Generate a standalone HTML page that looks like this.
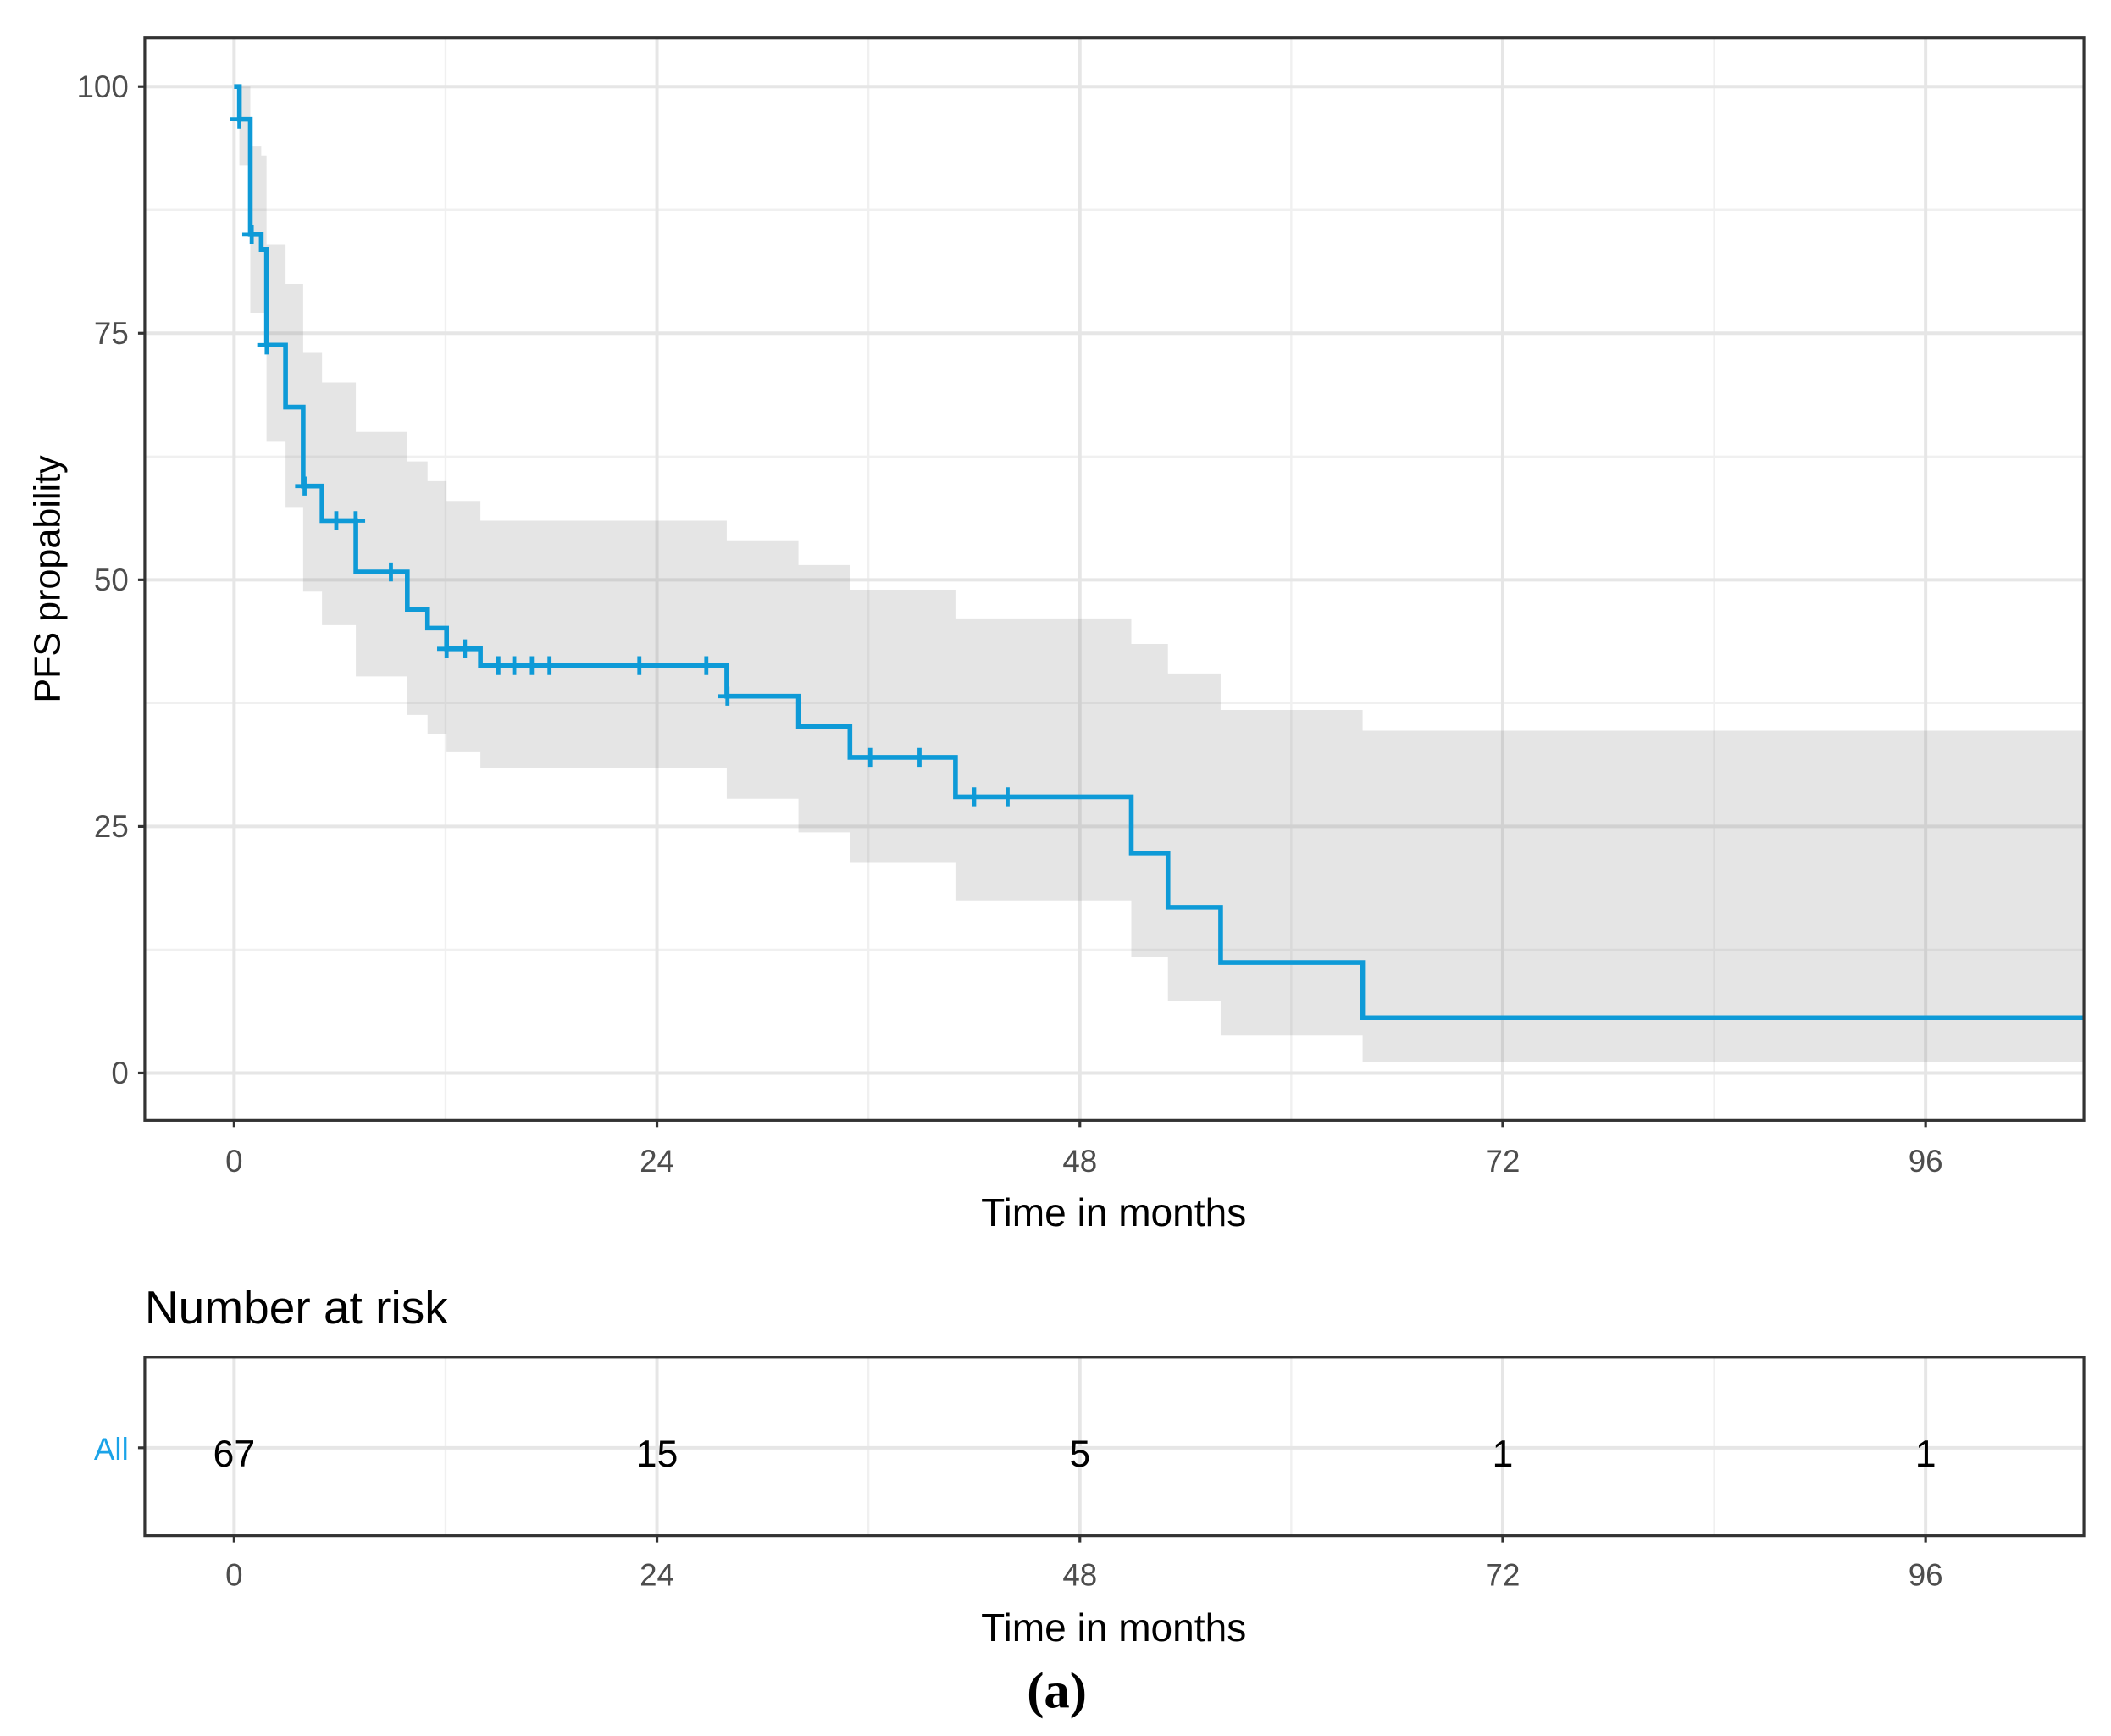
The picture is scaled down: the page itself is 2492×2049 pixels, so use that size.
<!DOCTYPE html>
<html><head><meta charset="utf-8"><style>
html,body{margin:0;padding:0;background:#fff}
svg{display:block}
text{font-family:"Liberation Sans",sans-serif}
</style></head><body>
<svg id="chart" width="2492" height="2049" viewBox="0 0 1560 1283" preserveAspectRatio="none" xmlns="http://www.w3.org/2000/svg">
<g id="main"></g>
<g id="risk"></g>
</svg>
<script>
const times=[0,0.3,0.92,1.54,1.84,2.92,3.92,4.99,6.91,9.83,10.98,12.06,13.98,27.96,32.03,34.95,40.94,50.92,53.0,55.99,64.05];
const surv=[100,96.7,85,83.5,73.8,67.5,59.5,56,50.8,47,45.1,43,41.3,38.2,35.1,32,28,22.3,16.8,11.2,5.6];
const upper=[100,100,94,93,84,80,73,70,65,62,60,58,56,54,51.5,49,46,43.5,40.5,36.8,34.7];
const lower=[100,92,77,77,64,57.3,48.8,45.4,40.2,36.3,34.4,32.6,30.9,27.8,24.4,21.3,17.5,11.8,7.3,3.8,1.1];
const censorTimes=[0.3,1.0,1.85,4.0,5.8,6.9,8.9,12.06,13.1,15.0,15.9,16.9,17.9,23.0,26.8,28.0,36.1,38.9,42.0,43.9];
const xTicks=[0,24,48,72,96];
const xMinor=[12,36,60,84];
const yTicks=[0,25,50,75,100];
const yMinor=[12.5,37.5,62.5,87.5];
const riskTimes=[0,24,48,72,96];
const riskCounts=[67,15,5,1,1];
const tMax=105;

const NS='http://www.w3.org/2000/svg';
const PL=107,PR=1540,PT=28,PB=828;
const X=t=>173+t*(1423-173)/96;
const Y=v=>793-v*(793-64)/100;
function mk(parent,tag,attrs,txt){const e=document.createElementNS(NS,tag);for(const k in attrs)e.setAttribute(k,attrs[k]);if(txt!==undefined)e.textContent=txt;parent.appendChild(e);return e;}
const main=document.getElementById('main');
const risk=document.getElementById('risk');

yMinor.forEach(v=>{const l=mk(main,'line',{x1:PL,x2:PR,y1:Y(v),y2:Y(v),stroke:'#f0f0f0','stroke-width':1.5});

});
xMinor.forEach(t=>{const l=mk(main,'line',{x1:X(t),x2:X(t),y1:PT,y2:PB,stroke:'#f0f0f0','stroke-width':1.5});

});
yTicks.forEach(v=>{const l=mk(main,'line',{x1:PL,x2:PR,y1:Y(v),y2:Y(v),stroke:'#e6e6e6','stroke-width':2.5});

});
xTicks.forEach(t=>{const l=mk(main,'line',{x1:X(t),x2:X(t),y1:PT,y2:PB,stroke:'#e6e6e6','stroke-width':2.5});

});

let up='',lo='';
for(let i=0;i<times.length;i++){const t0=times[i],t1=i+1<times.length?times[i+1]:tMax;
up+=(i?'L':'M')+X(t0)+','+Y(upper[i])+'L'+X(t1)+','+Y(upper[i]);}
for(let i=times.length-1;i>=0;i--){const t0=times[i],t1=i+1<times.length?times[i+1]:tMax;
lo+='L'+X(t1)+','+Y(lower[i])+'L'+X(t0)+','+Y(lower[i]);}
const band=mk(main,'path',{d:up+lo+'Z',fill:'#7f7f7f','fill-opacity':0.2});



let d='';
for(let i=0;i<times.length;i++){const t1=i+1<times.length?times[i+1]:tMax;
d+=(i?'L':'M')+X(times[i])+','+Y(surv[i])+'L'+X(t1)+','+Y(surv[i]);}
const curve=mk(main,'path',{d:d,fill:'none',stroke:'#0e9ad7','stroke-width':3.5});


function survAt(t){let v=surv[0];for(let i=0;i<times.length;i++)if(times[i]<=t)v=surv[i];return v;}
censorTimes.forEach(t=>{const x=X(t),y=Y(survAt(t));
const g=mk(main,'path',{d:`M${x-7},${y}L${x+7},${y}M${x},${y-7}L${x},${y+7}`,stroke:'#0e9ad7','stroke-width':3});

});

const fr=mk(main,'rect',{x:PL,y:PT,width:PR-PL,height:PB-PT,fill:'none',stroke:'#333','stroke-width':2});


yTicks.forEach(v=>{mk(main,'line',{x1:PL-5,x2:PL,y1:Y(v),y2:Y(v),stroke:'#333','stroke-width':2});
const tx=mk(main,'text',{x:95,y:Y(v)+8,'text-anchor':'end','font-size':23,fill:'#4d4d4d'},v);

});
xTicks.forEach(t=>{mk(main,'line',{x1:X(t),x2:X(t),y1:PB,y2:PB+5,stroke:'#333','stroke-width':2});
const tx=mk(main,'text',{x:X(t),y:866,'text-anchor':'middle','font-size':23,fill:'#4d4d4d'},t);

});
const xt=mk(main,'text',{x:823,y:906,'text-anchor':'middle','font-size':29,fill:'#000',textLength:196,lengthAdjust:'spacingAndGlyphs'},'Time in months');


const yt=mk(main,'text',{x:0,y:0,'text-anchor':'middle','font-size':27,fill:'#000',transform:'translate(44,428) rotate(-90)'},'PFS propability');



const RT=1003,RB=1135,RY=1070;
const rtitle=mk(risk,'text',{x:107,y:978,'font-size':34,fill:'#000',textLength:224,lengthAdjust:'spacingAndGlyphs'},'Number at risk');


xMinor.forEach(t=>{mk(risk,'line',{x1:X(t),x2:X(t),y1:RT,y2:RB,stroke:'#f0f0f0','stroke-width':1.5});});
xTicks.forEach(t=>{mk(risk,'line',{x1:X(t),x2:X(t),y1:RT,y2:RB,stroke:'#e6e6e6','stroke-width':2.5});});
mk(risk,'line',{x1:PL,x2:PR,y1:RY,y2:RY,stroke:'#e6e6e6','stroke-width':2.5});
const rf=mk(risk,'rect',{x:PL,y:RT,width:PR-PL,height:RB-RT,fill:'none',stroke:'#333','stroke-width':2});


riskTimes.forEach((t,i)=>{const tx=mk(risk,'text',{x:X(t),y:RY+14,'text-anchor':'middle','font-size':28,fill:'#000'},riskCounts[i]);

});
mk(risk,'line',{x1:PL-5,x2:PL,y1:RY,y2:RY,stroke:'#333','stroke-width':2});
const al=mk(risk,'text',{x:95,y:RY+9,'text-anchor':'end','font-size':23,fill:'#1aa3e8'},'All');


xTicks.forEach(t=>{mk(risk,'line',{x1:X(t),x2:X(t),y1:RB,y2:RB+5,stroke:'#333','stroke-width':2});
const tx=mk(risk,'text',{x:X(t),y:1172,'text-anchor':'middle','font-size':23,fill:'#4d4d4d'},t);

});
const xt2=mk(risk,'text',{x:823,y:1213,'text-anchor':'middle','font-size':29,fill:'#000',textLength:196,lengthAdjust:'spacingAndGlyphs'},'Time in months');


const cap=mk(risk,'text',{x:781,y:1262,'text-anchor':'middle','font-size':38,fill:'#000',style:'font-family:"Liberation Serif",serif;font-weight:bold'},'(a)');


</script>
</body></html>
